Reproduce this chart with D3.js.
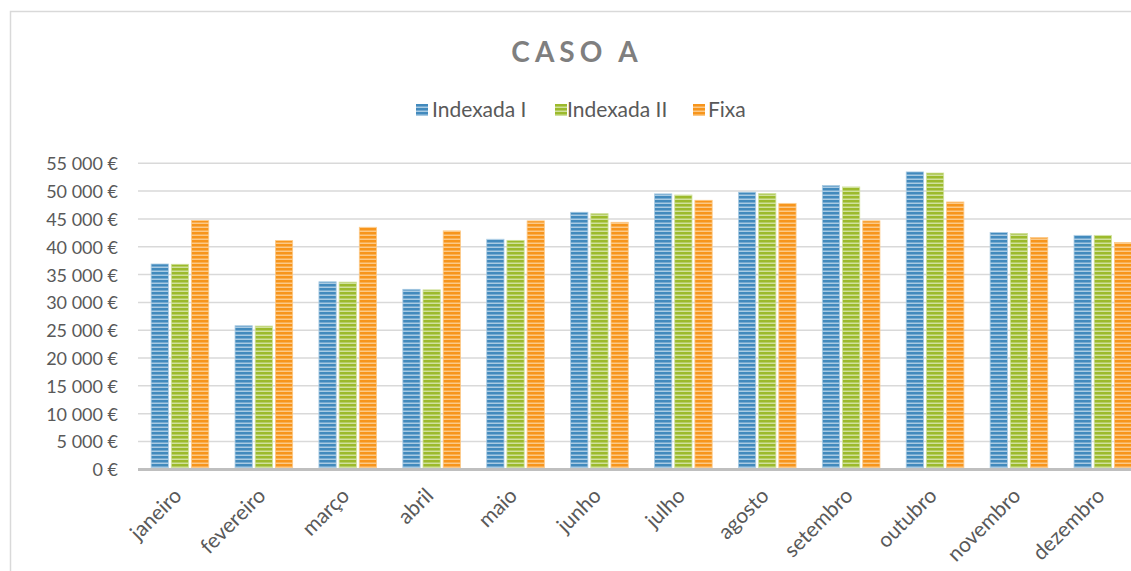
<!DOCTYPE html>
<html>
<head>
<meta charset="utf-8">
<script src="https://cdn.jsdelivr.net/npm/d3@7"></script>
<style>
  html, body { margin: 0; padding: 0; background: #ffffff; }
  svg { display: block; }
</style>
</head>
<body>
<div id="chart"></div>
<script>
const months = ["janeiro", "fevereiro", "março", "abril", "maio", "junho", "julho", "agosto", "setembro", "outubro", "novembro", "dezembro"];
const seriesNames = ["Indexada I", "Indexada II", "Fixa"];
const indexadaI  = [36900, 25800, 33700, 32350, 41350, 46200, 49500, 49800, 51000, 53450, 42550, 42050];
const indexadaII = [36850, 25750, 33650, 32250, 41150, 45950, 49300, 49550, 50750, 53250, 42400, 42050];
const fixa       = [44700, 41100, 43500, 42850, 44650, 44400, 48350, 47800, 44650, 48050, 41650, 40750];
const yTicks = [0, 5000, 10000, 15000, 20000, 25000, 30000, 35000, 40000, 45000, 50000, 55000];
const title = "CASO A";

const seriesValues = [indexadaI, indexadaII, fixa];
const data = months.map((m, i) => ({ month: m, values: seriesNames.map((s, j) => ({ key: s, value: seriesValues[j][i] })) }));

const W = 1131, H = 571;
const colors = { "Indexada I": ["#428abd", "#a9cbe3"], "Indexada II": ["#9cba2c", "#d0e19c"], "Fixa": ["#f7951c", "#fcc987"] };

const svg = d3.select("#chart").append("svg").attr("width", W).attr("height", H);
const defs = svg.append("defs");
seriesNames.forEach((s, i) => {
  const p = defs.append("pattern").attr("id", "pat" + i).attr("patternUnits", "userSpaceOnUse")
    .attr("width", 8).attr("height", 4);
  p.append("rect").attr("width", 8).attr("height", 4).attr("fill", colors[s][0]);
  p.append("rect").attr("y", 2.5).attr("width", 8).attr("height", 1.5).attr("fill", colors[s][1]);
});

// outer frame (cropped)
svg.append("rect").attr("x", 10.5).attr("y", 11.5).attr("width", 1300).attr("height", 700)
  .attr("fill", "none").attr("stroke", "#d9d9d9").attr("stroke-width", 1.5);

const plotLeft = 138, step = 83.9;
const x0 = d3.scaleBand().domain(months).range([plotLeft, plotLeft + step * months.length])
  .paddingInner(0.313).paddingOuter(0.1565);
const x1 = d3.scaleBand().domain(seriesNames).range([0, x0.bandwidth()]).paddingInner(0.145);
const y = d3.scaleLinear().domain([0, 55000]).range([469.3, 163.3]);

const fmt = v => d3.format(",")(v).replace(/,/g, " ") + " €";

// gridlines
svg.append("g").selectAll("line").data(yTicks.filter(d => d > 0)).join("line")
  .attr("x1", plotLeft).attr("x2", W + 20)
  .attr("y1", d => y(d)).attr("y2", d => y(d))
  .attr("stroke", "#d9d9d9").attr("stroke-width", 1.5);

// y axis labels
const yAxis = d3.axisLeft(y).tickValues(yTicks).tickFormat(fmt).tickSize(0).tickPadding(0);
const ya = svg.append("g").attr("transform", `translate(118,0)`).call(yAxis);
ya.select(".domain").remove();
ya.selectAll("text").attr("font-family", "Lato, 'Open Sans', sans-serif").attr("font-size", "18px")
  .attr("fill", "#595959").attr("dy", "0.36em");

// bars
const groups = svg.append("g").selectAll("g").data(data).join("g")
  .attr("transform", d => `translate(${x0(d.month)},0)`);
groups.selectAll("rect").data(d => d.values).join("rect")
  .attr("x", d => x1(d.key)).attr("width", x1.bandwidth())
  .attr("y", d => y(d.value)).attr("height", d => y(0) - y(d.value))
  .attr("fill", d => `url(#pat${seriesNames.indexOf(d.key)})`)
  .attr("stroke", d => colors[d.key][1]).attr("stroke-width", 0.8);

// baseline
svg.append("line").attr("x1", plotLeft).attr("x2", W + 20).attr("y1", y(0) + 0.3).attr("y2", y(0) + 0.3)
  .attr("stroke", "#bfbfbf").attr("stroke-width", 3);

// x labels
const xAxis = d3.axisBottom(x0).tickSize(0).tickPadding(0);
const xa = svg.append("g").attr("transform", `translate(0,0)`).call(xAxis);
xa.select(".domain").remove();
xa.selectAll(".tick").attr("transform", d => `translate(${x0(d) + x0.bandwidth() / 2 + 3},497)`);
xa.selectAll("text").attr("font-family", "Lato, 'Open Sans', sans-serif").attr("font-size", "21px")
  .attr("fill", "#595959").attr("text-anchor", "end").attr("dy", "0").attr("y", 0)
  .attr("transform", "rotate(-45)");

// title
svg.append("text").attr("x", 577).attr("y", 62).attr("text-anchor", "middle")
  .attr("font-family", "Lato, 'Open Sans', sans-serif").attr("font-weight", "bold").attr("font-size", "28px")
  .attr("letter-spacing", "5px").attr("fill", "#7f7f7f").text(title);

// legend
const legendX = [416, 555, 693];
const lg = svg.append("g").selectAll("g").data(seriesNames).join("g")
  .attr("transform", (d, i) => `translate(${legendX[i]},0)`);
lg.append("rect").attr("x", 0).attr("y", 104).attr("width", 12).attr("height", 12)
  .attr("fill", (d, i) => `url(#pat${i})`);
lg.append("text").attr("x", (d, i) => i === 0 ? 16 : (i === 1 ? 12 : 15)).attr("y", 116.5)
  .attr("font-family", "Lato, 'Open Sans', sans-serif").attr("font-size", "21px").attr("fill", "#595959")
  .text(d => d);
</script>
</body>
</html>
